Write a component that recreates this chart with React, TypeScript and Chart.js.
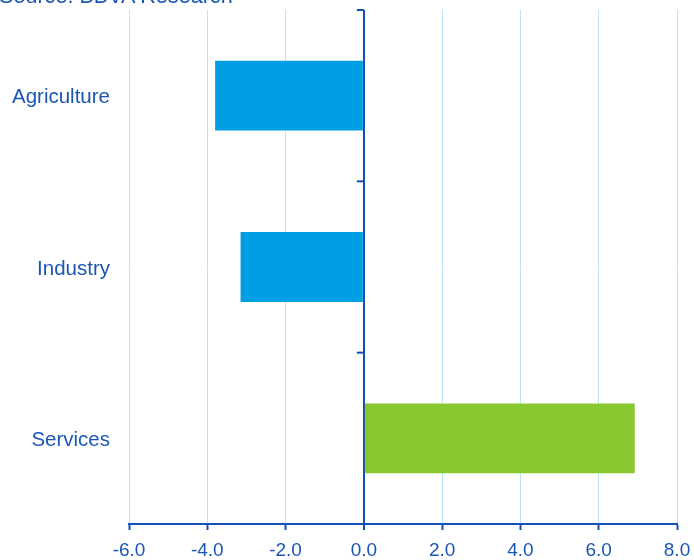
import React, { useEffect, useRef } from "react";
import { Chart, registerables } from "chart.js";

Chart.register(...registerables);

const categories = ["Agriculture", "Industry", "Services"];
const values = [-3.8, -3.15, 6.92];
const barColors = ["#009fe3", "#009fe3", "#89c730"];
const xTicks = [-6, -4, -2, 0, 2, 4, 6, 8];
const sourceText = "Source: BBVA Research";

const TEXT = "#1b55b5";
const AXIS = "#1150b4";
const GRID = "#bde5f9";
const FONT = "'Liberation Sans', Arial, sans-serif";

const zeroTicksPlugin = {
  id: "zeroTicks",
  afterDatasetsDraw(chart: any) {
    const x = chart.scales.x;
    const y = chart.scales.y;
    const zx = x.getPixelForValue(0);
    const ctx = chart.ctx;
    const n = categories.length;
    const step = n > 1 ? y.getPixelForTick(1) - y.getPixelForTick(0) : 0;
    ctx.save();
    ctx.strokeStyle = AXIS;
    ctx.lineWidth = 2;
    for (let i = 0; i < n; i++) {
      const b = y.getPixelForTick(i) - step / 2;
      ctx.beginPath();
      ctx.moveTo(zx - 7, b);
      ctx.lineTo(zx, b);
      ctx.stroke();
    }
    ctx.restore();
  },
};

export default function App() {
  const ref = useRef<HTMLCanvasElement | null>(null);
  useEffect(() => {
    if (!ref.current) return;
    const chart = new Chart(ref.current, {
      type: "bar",
      data: {
        labels: categories,
        datasets: [
          {
            data: values,
            backgroundColor: barColors,
            borderWidth: 0,
            categoryPercentage: 1,
            barPercentage: 0.408,
          },
        ],
      },
      options: {
        indexAxis: "y",
        animation: false,
        responsive: false,
        maintainAspectRatio: false,
        layout: { padding: { top: 10, right: 17, bottom: 0, left: 0 } },
        plugins: {
          legend: { display: false },
          tooltip: { enabled: false },
          title: { display: false },
        },
        scales: {
          x: {
            type: "linear",
            min: -6,
            max: 8,
            afterBuildTicks(scale: any) {
              scale.ticks = xTicks.map((v) => ({ value: v }));
            },
            afterFit(scale: any) {
              scale.height = 36;
              scale.paddingLeft = 0;
              scale.paddingRight = 0;
            },
            border: { display: true, color: AXIS, width: 2 },
            grid: {
              color: (c: any) => (c.tick && c.tick.value === 0 ? AXIS : GRID),
              lineWidth: (c: any) => (c.tick && c.tick.value === 0 ? 2 : 1),
              tickColor: AXIS,
              tickWidth: 2,
              tickLength: 6,
              drawTicks: true,
            },
            ticks: {
              color: TEXT,
              font: { family: FONT, size: 19 },
              padding: 9,
              maxRotation: 0,
              autoSkip: false,
              callback: (v: any) => Number(v).toFixed(1),
            },
          },
          y: {
            afterFit(scale: any) {
              scale.width = 129;
              scale.paddingTop = 0;
              scale.paddingBottom = 0;
            },
            border: { display: false },
            grid: { display: false, drawTicks: false },
            ticks: {
              color: TEXT,
              font: { family: FONT, size: 20.5 },
              padding: 19,
              labelOffset: 2,
            },
          },
        },
      },
      plugins: [zeroTicksPlugin],
    });
    return () => chart.destroy();
  }, []);

  return (
    <div style={{ position: "fixed", left: 0, top: 0, width: 694, height: 560, background: "#fff", overflow: "hidden" }}>
      <canvas ref={ref} width={694} height={560} style={{ display: "block", width: 694, height: 560 }} />
      <div
        style={{
          position: "absolute",
          left: -1,
          top: -15,
          fontFamily: FONT,
          fontSize: 21.6,
          lineHeight: "21.6px",
          color: TEXT,
          whiteSpace: "nowrap",
        }}
      >
        {sourceText}
      </div>
    </div>
  );
}
